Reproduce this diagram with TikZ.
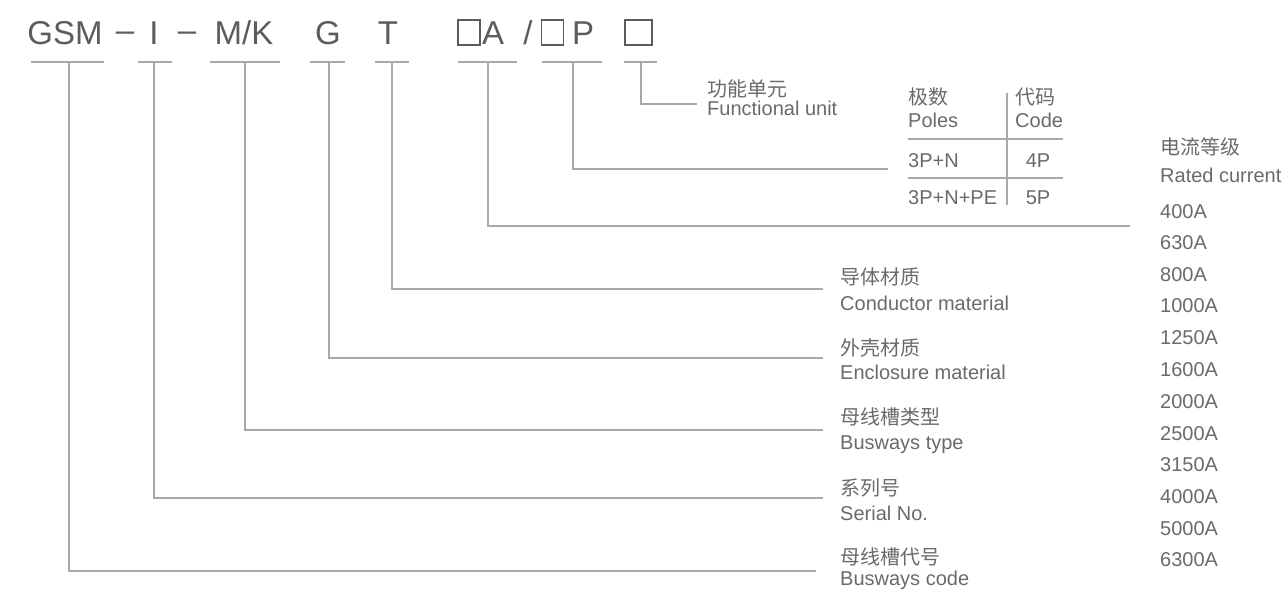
\documentclass[tikz,border=0pt]{standalone}
\usepackage{fontspec}
\setmainfont{Liberation Sans}
\newfontfamily\cjk{Noto Sans CJK SC}
\definecolor{txt}{HTML}{6A6A6A}
\definecolor{ttl}{HTML}{5C5C5C}
\definecolor{lnc}{HTML}{A8A8A8}
\tikzset{
  lbl/.style={anchor=base west, inner sep=0pt, text=txt, font=\fontsize{20}{24}\selectfont},
  lblc/.style={anchor=base, inner sep=0pt, text=txt, font=\fontsize{20}{24}\selectfont},
  zh/.style={anchor=base west, inner sep=0pt, text=txt, font=\cjk\fontsize{20}{24}\selectfont},
  ttlx/.style={anchor=base, inner sep=0pt, text=ttl, font=\fontsize{33}{40}\selectfont},
  bx/.style={draw=ttl, line width=1.1pt, minimum height=25pt, inner sep=0pt},
  ln/.style={draw=lnc, line width=1.5pt},
}
\begin{document}
\begin{tikzpicture}[x=1pt,y=-1pt]
\useasboundingbox (0,0) rectangle (1284,590);

% ---- title code ----
\node[ttlx] (gsm) at (65,44) {GSM};
\node[ttlx] (d1) at (125,41) {–};
\node[ttlx] (ii) at (154,44) {I};
\node[ttlx] (d2) at (187,41) {–};
\node[ttlx] (mk) at (244,44) {M/K};
\node[ttlx] (gg) at (328,44) {G};
\node[ttlx] (tt) at (388,44) {T};
\node[bx, minimum width=22pt] (b1) at (469,32.5) {};
\node[ttlx] (aa) at (493,44) {A};
\node[ttlx] (sl) at (528,44) {/};
\node[bx, minimum width=22pt] (b2) at (552.5,32.5) {};
\node[ttlx] (pp) at (583,44) {P};
\node[bx, minimum width=27pt] (b3) at (638.5,32.5) {};

% ---- underlines ----
\coordinate (uGl) at (31,62);  \coordinate (uGr) at (104,62); \coordinate (uG) at (69,62);
\coordinate (uIl) at (138,62); \coordinate (uIr) at (172,62); \coordinate (uI) at (154,62);
\coordinate (uMl) at (210,62); \coordinate (uMr) at (280,62); \coordinate (uM) at (245,62);
\coordinate (uEl) at (310,62); \coordinate (uEr) at (345,62); \coordinate (uE) at (329,62);
\coordinate (uTl) at (375,62); \coordinate (uTr) at (409,62); \coordinate (uT) at (392,62);
\coordinate (uAl) at (458,62); \coordinate (uAr) at (517,62); \coordinate (uA) at (488,62);
\coordinate (uPl) at (542,62); \coordinate (uPr) at (602,62); \coordinate (uP) at (573,62);
\coordinate (uUl) at (624,62); \coordinate (uUr) at (657,62); \coordinate (uU) at (641,62);
\foreach \k in {G,I,M,E,T,A,P,U} { \draw[ln] (u\k l) -- (u\k r); }

% ---- line ends ----
\coordinate (eU) at (697,104);
\coordinate (eP) at (888,169);
\coordinate (eA) at (1130,226);
\coordinate (eT) at (823,289);
\coordinate (eE) at (823,358);
\coordinate (eM) at (823,430);
\coordinate (eI) at (823,498);
\coordinate (eG) at (816,571);
\foreach \k in {U,P,A,T,E,M,I,G} { \draw[ln] (u\k) |- (e\k); }

% ---- functional unit ----
\node[zh]  (fuz) at (707,96) {功能单元};
\node[lbl] (fue) at (707,115) {Functional unit};

% ---- poles table ----
\node[zh]  (plz) at (908,104) {极数};
\node[lbl] (ple) at (908,127) {Poles};
\node[zh]  (cdz) at (1015,104) {代码};
\node[lbl] (cde) at (1015,127) {Code};
\coordinate (h1l) at (908,139); \coordinate (h1r) at (1063,139);
\coordinate (h2l) at (908,178); \coordinate (h2r) at (1063,178);
\coordinate (vt) at (1007,93);  \coordinate (vb) at (1007,205);
\draw[ln] (h1l) -- (h1r);
\draw[ln] (h2l) -- (h2r);
\draw[ln] (vt) -- (vb);
\node[lbl]  (r1a) at (908,167) {3P+N};
\node[lblc] (r1b) at (1038,167) {4P};
\node[lbl]  (r2a) at (908,204) {3P+N+PE};
\node[lblc] (r2b) at (1038,204) {5P};

% ---- rated current ----
\node[zh]  (rcz) at (1160,154) {电流等级};
\node[lbl] (rce) at (1160,182) {Rated current};
\foreach \v/\y in {400A/218,630A/249,800A/281,1000A/312,1250A/344,1600A/376,2000A/408,2500A/440,3150A/471,4000A/503,5000A/535,6300A/566}
  { \node[lbl] (a\v) at (1160,\y) {\v}; }

% ---- left labels ----
\node[zh]  (tz) at (840,284) {导体材质};
\node[lbl] (te) at (840,310) {Conductor material};
\node[zh]  (ez) at (840,355) {外壳材质};
\node[lbl] (ee) at (840,379) {Enclosure material};
\node[zh]  (mz) at (840,424) {母线槽类型};
\node[lbl] (me) at (840,449) {Busways type};
\node[zh]  (iz) at (840,495) {系列号};
\node[lbl] (ie) at (840,520) {Serial No.};
\node[zh]  (gz) at (840,564) {母线槽代号};
\node[lbl] (ge) at (840,585) {Busways code};
\end{tikzpicture}
\end{document}
